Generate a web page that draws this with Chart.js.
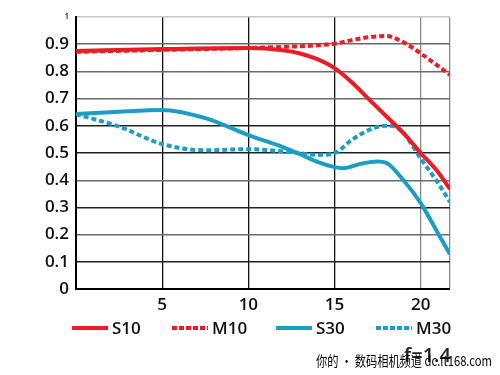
<!DOCTYPE html>
<html>
<head>
<meta charset="utf-8">
<script src="https://cdn.jsdelivr.net/npm/chart.js@4"></script>
<style>
html,body{margin:0;padding:0;background:#fff;}
#wrap{width:500px;height:375px;position:relative;}
</style>
</head>
<body>
<div id="wrap"><canvas id="c" width="500" height="375"></canvas></div>
<script>
const seriesNames = ['S10', 'M10', 'S30', 'M30'];
const xTicks = [0, 5, 10, 15, 20];
const xMax = 21.7;
const yTicks = [0, 0.1, 0.2, 0.3, 0.4, 0.5, 0.6, 0.7, 0.8, 0.9, 1];

const s10x = [0, 5, 10, 12, 13, 14, 15, 16, 17, 18, 19, 20, 21, 21.7];
const s10y = [0.875, 0.882, 0.886, 0.878, 0.866, 0.845, 0.812, 0.76, 0.697, 0.635, 0.573, 0.5, 0.43, 0.367];

const m10x = [0, 5, 10, 12, 15, 16, 17, 18, 19, 20, 21, 21.7];
const m10y = [0.872, 0.879, 0.886, 0.89, 0.902, 0.915, 0.926, 0.93, 0.907, 0.866, 0.82, 0.787];

const s30x = [0, 2.5, 5, 7.5, 10, 12, 13, 14, 15, 15.5, 16.5, 17.5, 18, 19, 20, 21, 21.7];
const s30y = [0.643, 0.652, 0.658, 0.628, 0.566, 0.522, 0.496, 0.467, 0.448, 0.444, 0.46, 0.469, 0.464, 0.40, 0.316, 0.205, 0.128];

const m30x = [0, 2.5, 5, 7.5, 10, 12.5, 14, 15, 16, 17, 18, 18.5, 19, 20, 21, 21.7];
const m30y = [0.643, 0.597, 0.533, 0.51, 0.514, 0.503, 0.493, 0.5, 0.548, 0.585, 0.6, 0.597, 0.573, 0.48, 0.39, 0.32];

const footerText = 'f=1.4';
const watermarkText = '你的 • 数码相机频道 dc.it168.com';

const RED = '#ec1c24';
const BLUE = '#1a9ec5';

function pts(xs, ys) { return xs.map((x, i) => ({x: x, y: ys[i]})); }

const styles = [
  {color: RED, dash: []},
  {color: RED, dash: [5, 3]},
  {color: BLUE, dash: []},
  {color: BLUE, dash: [5, 3]}
];
const rawData = [pts(s10x, s10y), pts(m10x, m10y), pts(s30x, s30y), pts(m30x, m30y)];

const datasets = seriesNames.map((n, i) => ({
  label: n,
  data: rawData[i],
  borderColor: styles[i].color,
  backgroundColor: styles[i].color,
  borderDash: styles[i].dash,
  borderWidth: 4,
  pointRadius: 0,
  fill: false,
  cubicInterpolationMode: 'monotone'
}));

const FONT = "'Open Sans', 'DejaVu Sans', sans-serif";

const customLegend = {
  id: 'customLegend',
  afterDraw(chart) {
    const ctx = chart.ctx;
    const xs = [72, 172, 276, 376];
    const y = 328;
    ctx.save();
    chart.data.datasets.forEach((ds, i) => {
      ctx.beginPath();
      ctx.strokeStyle = ds.borderColor;
      ctx.lineWidth = 4;
      ctx.setLineDash(ds.borderDash.length ? [5, 2] : []);
      ctx.moveTo(xs[i], y);
      ctx.lineTo(xs[i] + 36, y);
      ctx.stroke();
      ctx.setLineDash([]);
      ctx.fillStyle = '#111';
      ctx.font = "600 17px " + FONT;
      ctx.textBaseline = 'middle';
      ctx.textAlign = 'left';
      ctx.fillText(ds.label, xs[i] + 40, y + 1);
    });
    ctx.font = "600 20px " + FONT;
    ctx.fillStyle = '#222';
    ctx.fillText(footerText, 404, 356);
    ctx.font = "14px 'Noto Sans CJK SC', sans-serif";
    ctx.fillStyle = '#000';
    ctx.fillText(watermarkText, 316, 361, 176);
    ctx.restore();
  }
};

new Chart(document.getElementById('c'), {
  type: 'line',
  data: {datasets: datasets},
  plugins: [customLegend],
  options: {
    responsive: false,
    animation: false,
    events: [],
    layout: {padding: {top: 17, right: 50, bottom: 0, left: 0}},
    plugins: {legend: {display: false}, tooltip: {enabled: false}},
    scales: {
      x: {
        type: 'linear',
        min: 0,
        max: xMax,
        afterBuildTicks(scale) {
          scale.ticks = xTicks.concat([xMax]).map(v => ({value: v}));
        },
        afterFit(scale) { scale.height = 86; },
        ticks: {
          padding: 6,
          color: '#111',
          font: {family: FONT, size: 17, weight: '600'},
          maxRotation: 0,
          autoSkip: false,
          callback: (v) => (v === 0 || v === xMax) ? '' : String(v)
        },
        grid: {
          drawTicks: false,
          color: (c) => (c.tick && (c.tick.value === 20 || c.tick.value === xMax)) ? '#8a8a8a' : '#111',
          lineWidth: (c) => (c.tick && c.tick.value === 0) ? 0 : 1.3
        },
        border: {display: true, color: '#000', width: 2}
      },
      y: {
        min: 0,
        max: 1,
        afterBuildTicks(scale) {
          scale.ticks = yTicks.map(v => ({value: v}));
        },
        afterFit(scale) { scale.width = 76; },
        ticks: {
          padding: 7,
          color: '#111',
          autoSkip: false,
          font: (c) => ({family: FONT, size: (c.tick && c.tick.value === 1) ? 8 : 17, weight: '600'}),
          callback: (v) => String(Math.round(v * 10) / 10)
        },
        grid: {
          drawTicks: false,
          color: (c) => {
            const v = c.tick ? c.tick.value : 0;
            if (v === 1) return '#c8c8c8';
            if (v === 0.5 || v === 0.1 || v === 0.3 || v === 0.6) return '#222';
            return '#6a6a6a';
          },
          lineWidth: (c) => (c.tick && c.tick.value === 0) ? 0 : 1.4
        },
        border: {display: true, color: '#000', width: 2}
      }
    }
  }
});
</script>
</body>
</html>
